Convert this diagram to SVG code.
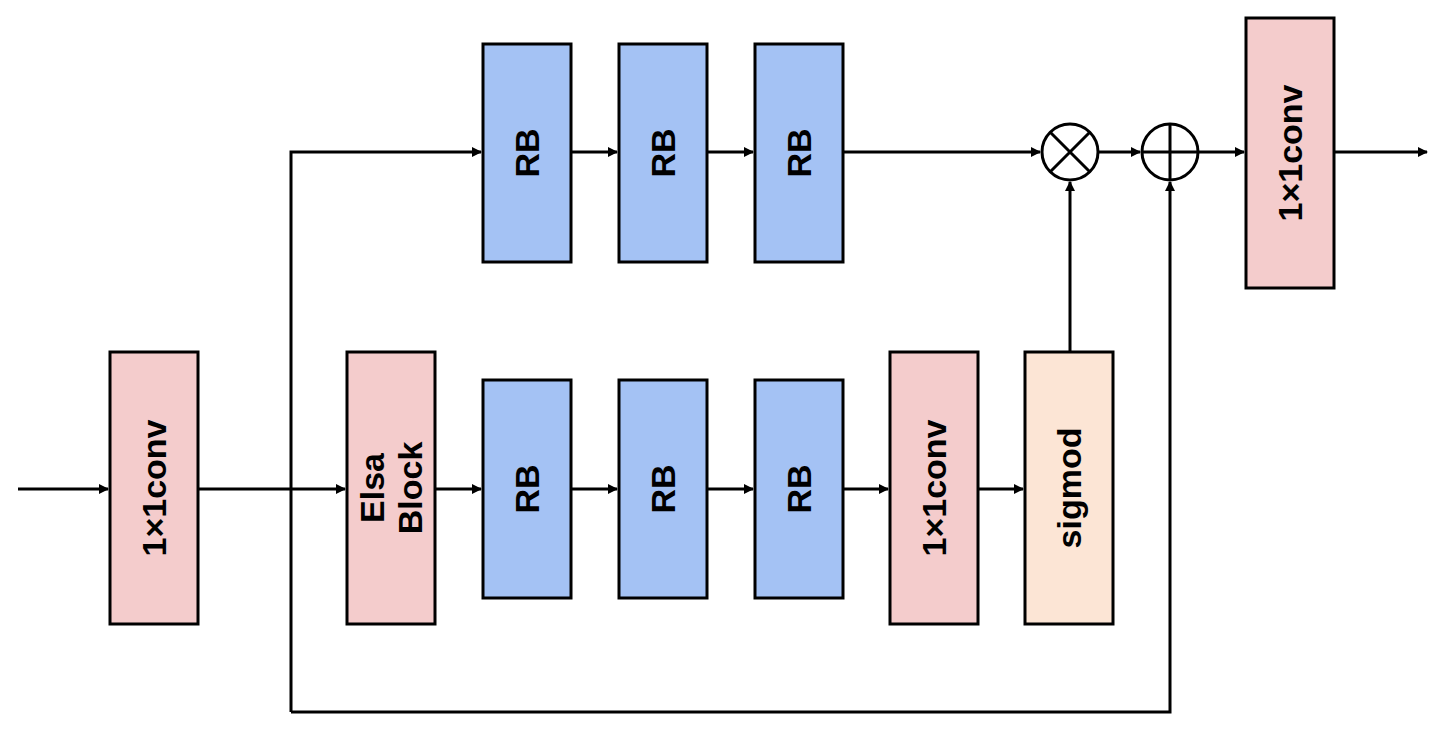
<svg xmlns="http://www.w3.org/2000/svg" width="1439" height="734" viewBox="0 0 1439 734">
<style>
.b{stroke:#000;stroke-width:3}
.pink{fill:#f4cccc}.blue{fill:#a4c2f4}.peach{fill:#fce5d5}
.t{font-family:"Liberation Sans",Arial,sans-serif;font-weight:bold;font-size:34px;text-anchor:middle;dominant-baseline:central}
.c{stroke:#000;stroke-width:3;fill:none}
</style>
<defs><marker id="a" markerWidth="10" markerHeight="10" refX="9" refY="5" orient="auto" markerUnits="userSpaceOnUse" viewBox="0 0 10 10"><path d="M0,0L10,5L0,10z"/></marker></defs>
<rect width="1439" height="734" fill="#fff"/>
<g id="conv1"><rect class="b pink" x="110" y="352" width="88" height="272"/><text class="t" transform="translate(154,488) rotate(-90)">1×1conv</text></g>
<g id="elsa"><rect class="b pink" x="347" y="352" width="88" height="272"/><text class="t" transform="translate(391,488) rotate(-90)"><tspan x="0" dy="-19">Elsa</tspan><tspan x="0" dy="38">Block</tspan></text></g>
<g id="rb4"><rect class="b blue" x="483" y="380" width="88" height="218"/><text class="t" transform="translate(527,489) rotate(-90)">RB</text></g>
<g id="rb5"><rect class="b blue" x="619" y="380" width="88" height="218"/><text class="t" transform="translate(663,489) rotate(-90)">RB</text></g>
<g id="rb6"><rect class="b blue" x="755" y="380" width="88" height="218"/><text class="t" transform="translate(799,489) rotate(-90)">RB</text></g>
<g id="conv2"><rect class="b pink" x="890" y="352" width="88" height="272"/><text class="t" transform="translate(934,488) rotate(-90)">1×1conv</text></g>
<g id="sig"><rect class="b peach" x="1025" y="352" width="88" height="272"/><text class="t" transform="translate(1069,488) rotate(-90)">sigmod</text></g>
<g id="rb1"><rect class="b blue" x="483" y="44" width="88" height="218"/><text class="t" transform="translate(527,153) rotate(-90)">RB</text></g>
<g id="rb2"><rect class="b blue" x="619" y="44" width="88" height="218"/><text class="t" transform="translate(663,153) rotate(-90)">RB</text></g>
<g id="rb3"><rect class="b blue" x="755" y="44" width="88" height="218"/><text class="t" transform="translate(799,153) rotate(-90)">RB</text></g>
<g id="conv3"><rect class="b pink" x="1246" y="18" width="88" height="270"/><text class="t" transform="translate(1290,153) rotate(-90)">1×1conv</text></g>
<g id="mul"><circle class="c" cx="1070" cy="152" r="28"/><path class="c" d="M1050,132L1090,172M1090,132L1050,172"/></g>
<g id="add"><circle class="c" cx="1170" cy="152" r="28"/><path class="c" d="M1142,152H1198M1170,124V180"/></g>
<g id="connectors" class="c">
<path d="M18,489H108" marker-end="url(#a)"/>
<path d="M198,489H345" marker-end="url(#a)"/>
<path d="M291,712V152H481" marker-end="url(#a)"/>
<path d="M291,712H1170V182" marker-end="url(#a)"/>
<path d="M435,489H481" marker-end="url(#a)"/>
<path d="M571,489H617" marker-end="url(#a)"/>
<path d="M707,489H753" marker-end="url(#a)"/>
<path d="M843,489H888" marker-end="url(#a)"/>
<path d="M978,489H1023" marker-end="url(#a)"/>
<path d="M571,152H617" marker-end="url(#a)"/>
<path d="M707,152H753" marker-end="url(#a)"/>
<path d="M843,152H1040" marker-end="url(#a)"/>
<path d="M1070,352V182" marker-end="url(#a)"/>
<path d="M1098,152H1140" marker-end="url(#a)"/>
<path d="M1198,152H1244" marker-end="url(#a)"/>
<path d="M1334,152H1427" marker-end="url(#a)"/>
</g>
</svg>
